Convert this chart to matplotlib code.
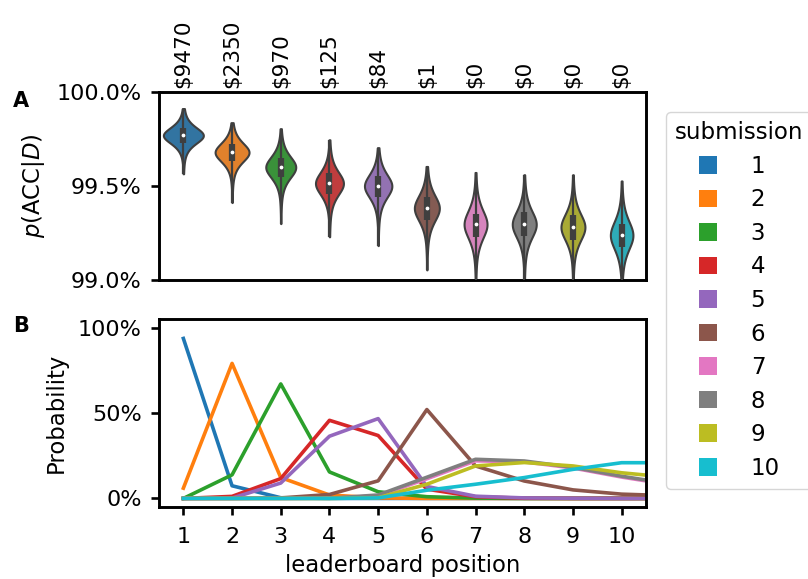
import colorsys
import numpy as np
import matplotlib
matplotlib.use("Agg")
import matplotlib.pyplot as plt
from matplotlib.ticker import PercentFormatter
from matplotlib.patches import Patch

# --- data ------------------------------------------------------------------
submissions = ["1", "2", "3", "4", "5", "6", "7", "8", "9", "10"]
prizes = [r"\$9470", r"\$2350", r"\$970", r"\$125", r"\$84",
          r"\$1", r"\$0", r"\$0", r"\$0", r"\$0"]

# posterior accuracy (percent) per submission
acc_median = [99.769, 99.679, 99.600, 99.514, 99.500, 99.382, 99.296, 99.296, 99.281, 99.238]
acc_q1 = [99.730, 99.631, 99.550, 99.457, 99.442, 99.317, 99.228, 99.233, 99.215, 99.174]
acc_q3 = [99.810, 99.726, 99.649, 99.568, 99.554, 99.441, 99.353, 99.360, 99.344, 99.300]
acc_min = [99.565, 99.412, 99.300, 99.230, 99.183, 99.054, 98.900, 98.900, 98.900, 98.900]
acc_max = [99.912, 99.837, 99.805, 99.746, 99.704, 99.604, 99.572, 99.560, 99.560, 99.527]
acc_spread = [0.048, 0.0565, 0.064, 0.0686, 0.070, 0.0768, 0.0835, 0.080, 0.080, 0.085]

# probability of each leaderboard position (1..11) per submission
lb_pos = [1, 2, 3, 4, 5, 6, 7, 8, 9, 10, 11]
prob_1 = [0.936, 0.074, 0.004, 0.0, 0.0, 0.0, 0.0, 0.0, 0.0, 0.0, 0.0]
prob_2 = [0.060, 0.790, 0.122, 0.020, 0.003, 0.0, 0.0, 0.0, 0.0, 0.0, 0.0]
prob_3 = [0.0, 0.138, 0.670, 0.155, 0.039, 0.010, 0.002, 0.0, 0.0, 0.0, 0.0]
prob_4 = [0.0, 0.012, 0.116, 0.457, 0.368, 0.054, 0.010, 0.001, 0.0, 0.0, 0.0]
prob_5 = [0.0, 0.002, 0.090, 0.364, 0.467, 0.070, 0.013, 0.003, 0.001, 0.0, 0.0]
prob_6 = [0.0, 0.0, 0.003, 0.023, 0.103, 0.520, 0.190, 0.102, 0.050, 0.025, 0.016]
prob_7 = [0.0, 0.0, 0.0, 0.001, 0.015, 0.115, 0.220, 0.214, 0.178, 0.125, 0.080]
prob_8 = [0.0, 0.0, 0.0, 0.001, 0.020, 0.124, 0.229, 0.219, 0.182, 0.130, 0.085]
prob_9 = [0.0, 0.0, 0.0, 0.0, 0.004, 0.083, 0.190, 0.210, 0.190, 0.150, 0.123]
prob_10 = [0.0, 0.0, 0.0, 0.0, 0.003, 0.048, 0.083, 0.122, 0.170, 0.209, 0.209]
rank_prob = [prob_1, prob_2, prob_3, prob_4, prob_5,
             prob_6, prob_7, prob_8, prob_9, prob_10]

# --- style -----------------------------------------------------------------
plt.rcParams["font.family"] = ["DejaVu Sans"]
plt.rcParams["font.size"] = 16
plt.rcParams["axes.labelsize"] = 16.4
plt.rcParams["axes.linewidth"] = 2.1
for a in ("x", "y"):
    plt.rcParams[a + "tick.major.width"] = 1.9
    plt.rcParams[a + "tick.major.size"] = 5.5
    plt.rcParams[a + "tick.labelsize"] = 16
plt.rcParams["ytick.major.pad"] = 7
plt.rcParams["xtick.major.pad"] = 9

colors = plt.get_cmap("tab10").colors


def desat(c, prop=0.75):
    h, l, s = colorsys.rgb_to_hls(*c)
    return colorsys.hls_to_rgb(h, l, s * prop)


gray = "#3f3f3f"

fig = plt.figure(figsize=(8.08, 5.79), dpi=100)
axA = fig.add_axes([0.1968, 0.5164, 0.6027, 0.3247])
axB = fig.add_axes([0.1968, 0.1244, 0.6027, 0.3247])

# --- panel A: violins ------------------------------------------------------
x = np.arange(1, 11)
nu = 4.0
stats = []
peaks = []
for i in range(10):
    coords = np.linspace(acc_min[i], acc_max[i], 300)
    z = (coords - acc_median[i]) / acc_spread[i]
    vals = (1 + z ** 2 / nu) ** (-(nu + 1) / 2) / acc_spread[i]
    peaks.append(vals.max())
    stats.append(dict(coords=coords / 100, vals=vals, mean=acc_median[i] / 100,
                      median=acc_median[i] / 100, min=acc_min[i] / 100,
                      max=acc_max[i] / 100, quantiles=[]))
peaks = np.array(peaks)
widths = 0.82 * peaks / peaks.max()

parts = axA.violin(stats, positions=x, widths=widths, showmeans=False,
                   showextrema=False, showmedians=False)
for i, body in enumerate(parts["bodies"]):
    body.set_facecolor(desat(colors[i]))
    body.set_edgecolor(gray)
    body.set_linewidth(1.5)
    body.set_alpha(1)

axA.vlines(x, np.array(acc_min) / 100, np.array(acc_max) / 100, color=gray, lw=1.6, zorder=3)
axA.vlines(x, np.array(acc_q1) / 100, np.array(acc_q3) / 100, color=gray, lw=4.5, zorder=3)
axA.scatter(x, np.array(acc_median) / 100, s=3, color="white", zorder=4)

axA.set_xlim(0.5, 10.5)
axA.set_ylim(0.99, 1.0)
axA.set_yticks([0.99, 0.995, 1.0])
axA.yaxis.set_major_formatter(PercentFormatter(xmax=1, decimals=1))
axA.set_xticks(x)
axA.set_xticklabels(prizes, rotation=90, fontsize=15.5)
axA.tick_params(axis="x", bottom=False, labelbottom=False, top=True,
                labeltop=True, length=0, pad=3)
axA.set_ylabel(r"$p(\mathrm{ACC}|D)$", labelpad=7)

# --- panel B: rank probabilities -------------------------------------------
for i in range(10):
    axB.plot(lb_pos, rank_prob[i], color=colors[i], lw=2.6)
axB.set_xlim(0.5, 10.5)
axB.set_ylim(-0.05, 1.05)
axB.set_xticks(x)
axB.set_yticks([0, 0.5, 1.0])
axB.yaxis.set_major_formatter(PercentFormatter(xmax=1, decimals=0))
axB.set_ylabel("Probability", labelpad=7)
axB.set_xlabel("leaderboard position", labelpad=5)

fig.text(13 / 808, 1 - 101 / 579, "A", weight="bold", size=15, va="center")
fig.text(13 / 808, 1 - 326 / 579, "B", weight="bold", size=15, va="center")

handles = [Patch(facecolor=colors[i]) for i in range(10)]
fig.legend(handles, submissions, title="submission", loc="center left",
           bbox_to_anchor=(666 / 808, 0.481), borderaxespad=0,
           handlelength=0.8, handleheight=0.8, handletextpad=1.45,
           labelspacing=0.46, fontsize=16.5, title_fontsize=16.5)

fig.savefig("out.png", dpi=100)
